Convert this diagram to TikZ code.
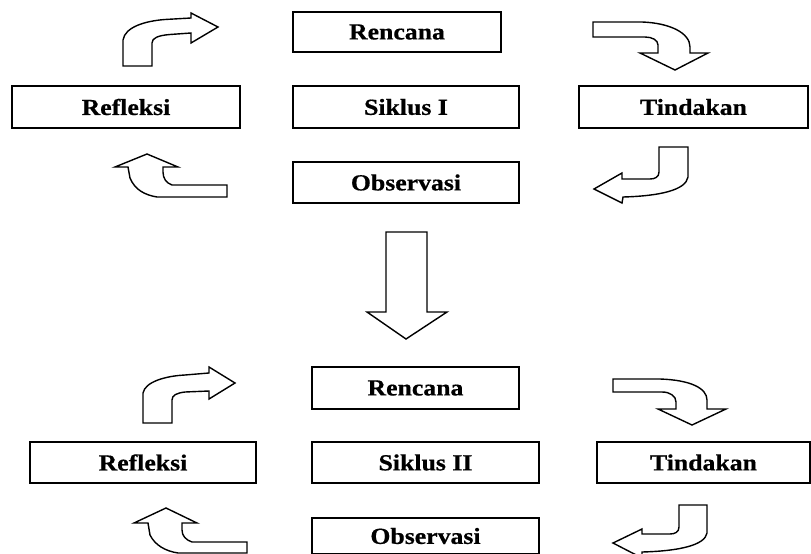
\documentclass[tikz,border=0pt]{standalone}
\usepackage{fontspec}
\setmainfont{Liberation Serif}[FakeStretch=1.12,FakeBold=0.6]
\begin{document}
\begin{tikzpicture}[x=1pt,y=-1pt,
  box/.style={draw=black,line width=1.5pt,inner sep=0pt,font=\bfseries\fontsize{23}{27}\selectfont},
  blockarrow/.style={draw=black,line width=1.4pt,line join=miter,fill=white}]
\useasboundingbox (0,0) rectangle (811,554);
% Cycle I
\node[box,minimum width=208pt,minimum height=40pt] (ren1) at (397,32) {Rencana};
\node[box,minimum width=228pt,minimum height=42pt] (ref1) at (126,107) {Refleksi};
\node[box,minimum width=226pt,minimum height=42pt] (sik1) at (406,107) {Siklus I};
\node[box,minimum width=229pt,minimum height=42pt] (tin1) at (693.5,107) {Tindakan};
\node[box,minimum width=226pt,minimum height=41pt] (obs1) at (406,182.5) {Observasi};
% Cycle II
\node[box,minimum width=207pt,minimum height=42pt] (ren2) at (415.5,388) {Rencana};
\node[box,minimum width=226pt,minimum height=41pt] (ref2) at (143,462.5) {Refleksi};
\node[box,minimum width=227pt,minimum height=41pt] (sik2) at (425.5,462.5) {Siklus II};
\node[box,minimum width=213pt,minimum height=41pt] (tin2) at (703.5,462.5) {Tindakan};
\node[box,minimum width=227pt,minimum height=36pt] (obs2) at (425.5,536) {Observasi};
% curved block arrows, cycle I
\draw[blockarrow] (123,66) -- (123,40) .. controls (125,27) and (145,21) .. (165,19.5) -- (191,18) -- (191,13) -- (218,27) -- (191,43) -- (191,33) -- (170,34.5) .. controls (158,35.5) and (152,38) .. (152,43) -- (152,66) -- cycle;
\draw[blockarrow] (593,22) -- (642,22) .. controls (670,23) and (690,33) .. (690,47) -- (690,53) -- (708,53) -- (675,70) -- (640,53) -- (658,53) -- (658,45) .. controls (658,40) and (652,37) .. (645,37) -- (593,37) -- cycle;
\draw[blockarrow] (659,147) -- (688,147) -- (688,177) .. controls (686,190) and (660,196) .. (623,197) -- (622,203) -- (594,189) -- (622,173) -- (622,179) -- (650,179) .. controls (655,179) and (659,177) .. (659,172) -- cycle;
\draw[blockarrow] (227,185) -- (172,185) .. controls (166,183) and (163,178) .. (163,172) -- (163,167) -- (178,167) -- (147,154) -- (115,167) -- (128,167) -- (130,178) .. controls (135,190) and (145,195) .. (157,197) -- (227,197) -- cycle;
% big down arrow
\draw[blockarrow] (386,232) -- (427,232) -- (427,312) -- (447,312) -- (406,339) -- (367,312) -- (386,312) -- cycle;
% curved block arrows, cycle II
\draw[blockarrow] (143,423) -- (143,393) .. controls (145,382) and (165,376) .. (185,375) -- (209,373) -- (209,367) -- (235,383) -- (209,399) -- (209,391) -- (185,392) .. controls (177,393) and (172,395) .. (172,400) -- (172,423) -- cycle;
\draw[blockarrow] (613,379) -- (660,379) .. controls (690,380) and (707,388) .. (707,400) -- (707,409) -- (726,409) -- (692,425) -- (658,409) -- (676,409) -- (676,402) .. controls (676,396) and (670,392) .. (662,392) -- (613,392) -- cycle;
\draw[blockarrow] (679,505) -- (707,505) -- (707,533) .. controls (705,545) and (680,551) .. (642,552) -- (642,558) -- (613,543) -- (642,529) -- (642,534) -- (670,534) .. controls (675,534) and (679,532) .. (679,527) -- cycle;
\draw[blockarrow] (247,542) -- (192,542) .. controls (186,540) and (182,536) .. (182,530) -- (182,523) -- (197,523) -- (166,508) -- (134,523) -- (148,523) -- (150,535) .. controls (155,545) and (165,551) .. (178,553) -- (247,553) -- cycle;
\end{tikzpicture}
\end{document}
